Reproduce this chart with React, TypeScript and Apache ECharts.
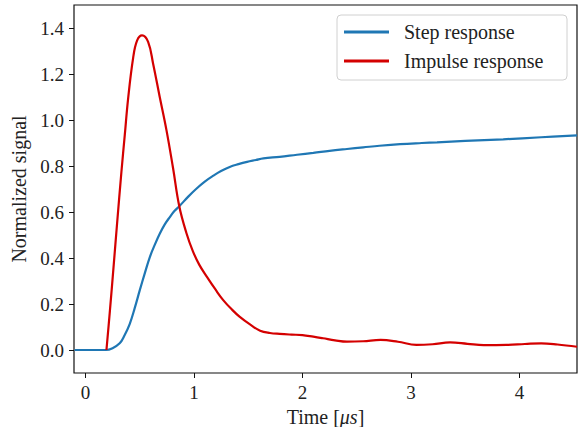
import React, { useEffect, useRef } from "react";
import * as echarts from "echarts";

const stepX = [-0.1, 0, 0.1, 0.19, 0.25, 0.316, 0.36, 0.409, 0.455, 0.5, 0.547, 0.593, 0.64, 0.685, 0.73, 0.778, 0.82, 0.865, 0.95, 1.02, 1.1, 1.18, 1.25, 1.33, 1.41, 1.49, 1.57, 1.64, 1.79, 1.95, 2.1, 2.25, 2.41, 2.56, 2.71, 2.9, 3.1, 3.24, 3.5, 3.85, 4.2, 4.53];
const stepY = [0, 0, 0, 0, 0.008, 0.029, 0.063, 0.114, 0.183, 0.258, 0.333, 0.403, 0.458, 0.505, 0.545, 0.578, 0.604, 0.625, 0.668, 0.7, 0.732, 0.758, 0.778, 0.796, 0.808, 0.818, 0.826, 0.833, 0.84, 0.849, 0.857, 0.866, 0.874, 0.881, 0.888, 0.895, 0.9, 0.903, 0.909, 0.916, 0.925, 0.933];

const impX = [0.194, 0.224, 0.261, 0.292, 0.332, 0.363, 0.393, 0.44, 0.476, 0.522, 0.578, 0.624, 0.685, 0.747, 0.808, 0.865, 0.93, 0.99, 1.05, 1.12, 1.2, 1.27, 1.35, 1.42, 1.52, 1.61, 1.7, 1.79, 1.9, 2.0, 2.1, 2.19, 2.3, 2.41, 2.56, 2.72, 2.88, 3.05, 3.2, 3.36, 3.52, 3.67, 3.88, 4.05, 4.2, 4.35, 4.53];
const impY = [0, 0.16, 0.37, 0.55, 0.775, 0.935, 1.09, 1.27, 1.345, 1.368, 1.34, 1.245, 1.1, 0.956, 0.79, 0.625, 0.51, 0.43, 0.37, 0.318, 0.262, 0.217, 0.176, 0.145, 0.11, 0.084, 0.074, 0.07, 0.067, 0.065, 0.058, 0.051, 0.042, 0.036, 0.038, 0.044, 0.036, 0.022, 0.025, 0.033, 0.027, 0.021, 0.022, 0.026, 0.029, 0.024, 0.014];

const xTicks = [0, 1, 2, 3, 4];
const yTicks = [0, 0.2, 0.4, 0.6, 0.8, 1.0, 1.2, 1.4];

const seriesNames = ["Step response", "Impulse response"];
const FONT = "'Liberation Serif', 'DejaVu Serif', serif";

export default function App() {
  const ref = useRef<HTMLDivElement>(null);
  useEffect(() => {
    const chart = echarts.init(ref.current!, null, { renderer: "svg" });
    const axisCommon = {
      axisLine: { show: false, onZero: false },
      splitLine: { show: false },
    };
    chart.setOption({
      animation: false,
      grid: {
        left: 74,
        right: 9,
        top: 5,
        bottom: 54,
        show: true,
        borderColor: "#111",
        borderWidth: 1.2,
        backgroundColor: "#fff",
        outerBoundsMode: "none",
        containLabel: false,
      },
      legend: {
        orient: "vertical",
        left: 337,
        top: 15,
        padding: [7, 10, 9, 7],
        itemGap: 9,
        itemWidth: 45,
        itemHeight: 3,
        icon: "rect",
        borderColor: "#d0d0d0",
        borderWidth: 1,
        borderRadius: 4,
        backgroundColor: "rgba(255,255,255,0.8)",
        data: seriesNames,
        textStyle: {
          fontFamily: FONT,
          fontSize: 20,
          color: "#222",
          padding: [0, 0, 0, 10],
          lineHeight: 20,
          width: 153,
          overflow: "none",
        },
      },
      xAxis: {
        type: "value",
        min: -0.105,
        max: 4.53,
        ...axisCommon,
        axisTick: {
          show: true,
          length: 5,
          inside: false,
          customValues: xTicks,
          lineStyle: { color: "#111", width: 1 },
        },
        axisLabel: {
          customValues: xTicks,
          margin: 10,
          fontFamily: FONT,
          fontSize: 19,
          color: "#222",
        },
        name: "Time [{i|μs}]",
        nameLocation: "middle",
        nameGap: 33,
        nameTextStyle: {
          fontFamily: FONT,
          fontSize: 20,
          color: "#222",
          rich: {
            i: { fontFamily: FONT, fontSize: 20, fontStyle: "italic", color: "#222" },
          },
        },
      },
      yAxis: {
        type: "value",
        min: -0.1,
        max: 1.5,
        ...axisCommon,
        axisTick: {
          show: true,
          length: 5,
          inside: false,
          customValues: yTicks,
          lineStyle: { color: "#111", width: 1 },
        },
        axisLabel: {
          customValues: yTicks,
          margin: 10,
          fontFamily: FONT,
          fontSize: 19,
          color: "#222",
          formatter: (v: number) => v.toFixed(1),
        },
        name: "Normalized signal",
        nameLocation: "middle",
        nameGap: 43,
        nameTextStyle: { fontFamily: FONT, fontSize: 20, color: "#222" },
      },
      series: [
        {
          name: seriesNames[0],
          type: "line",
          smooth: 0.4,
          symbol: "none",
          data: stepX.map((x, i) => [x, stepY[i]]),
          lineStyle: { color: "#1f77b4", width: 2.2 },
          itemStyle: { color: "#1f77b4" },
          z: 2,
        },
        {
          name: seriesNames[1],
          type: "line",
          smooth: 0.4,
          symbol: "none",
          data: impX.map((x, i) => [x, impY[i]]),
          lineStyle: { color: "#d40000", width: 2.2 },
          itemStyle: { color: "#d40000" },
          z: 3,
        },
      ],
    });
    return () => chart.dispose();
  }, []);
  return <div ref={ref} style={{ width: 586, height: 427, position: "absolute", left: 0, top: 0 }} />;
}
